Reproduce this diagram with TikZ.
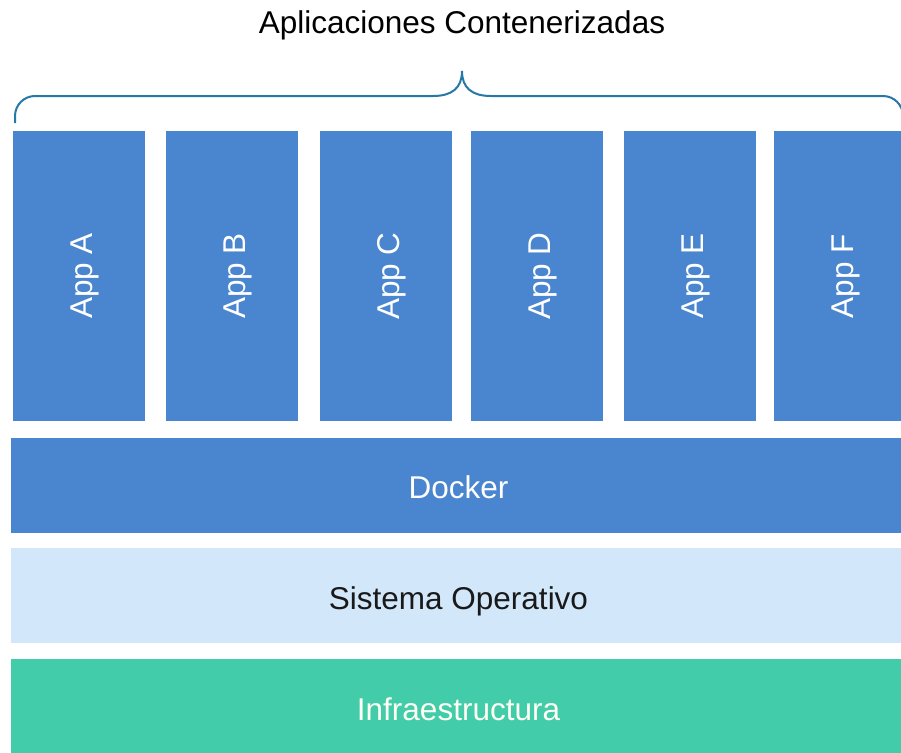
\documentclass[tikz,border=0pt]{standalone}
\usepackage{fontspec}
\setmainfont{Liberation Sans}
\usepackage{xcolor}
\definecolor{appblue}{HTML}{4A86CF}
\definecolor{oslight}{HTML}{D2E7F9}
\definecolor{infragreen}{HTML}{42CCAA}
\definecolor{bracecol}{HTML}{2678A6}

\begin{document}
\begin{tikzpicture}
    [x=1pt, y=-1pt,
      every node/.style={inner sep=0pt, outer sep=0pt,
        font=\fontsize{31.5}{38}\selectfont, text height=29pt, text depth=1.4pt},
      appbox/.style={fill=appblue, text=white, rotate=90,
        minimum width=290pt, minimum height=132pt},
      layer/.style={minimum width=895pt, minimum height=95pt}]
    \useasboundingbox (0,0) rectangle (901,752);
    \clip (0,0) rectangle (901,752);
    \node (title) at (462,19.5) {Aplicaciones Contenerizadas};
    % contenedores
    \node[appbox] (appA) at (79,276) {App A};
    \node[appbox] (appB) at (232,276) {App B};
    \node[appbox] (appC) at (385.5,276) {App C};
    \node[appbox] (appD) at (536.5,276) {App D};
    \node[appbox] (appE) at (689.5,276) {App E};
    \node[appbox] (appF) at (840,276) {App F};
    % capas
    \node[layer, fill=appblue, text=white] (docker) at (458.5,485) {Docker};
    \node[layer, fill=oslight, text=black!90] (os) at (458.5,595.5) {Sistema Operativo};
    \node[layer, fill=infragreen, text=white!95!yellow] (infra) at (458.5,706.5) {Infraestructura};
    % llave
    \coordinate (braceL) at (15,123);
    \coordinate (braceTip) at (462,71);
    \coordinate (braceR) at (903,123);
    \draw[bracecol, line width=2pt]
      (braceL) -- (15,116) .. controls (15,105) and (24,96) .. (35,96)
      -- (433,96) .. controls (452,96) and (462,88) .. (braceTip)
      .. controls (462,88) and (472,96) .. (491,96)
      -- (883,96) .. controls (894,96) and (903,105) .. (903,116) -- (braceR);
\end{tikzpicture}
\end{document}
